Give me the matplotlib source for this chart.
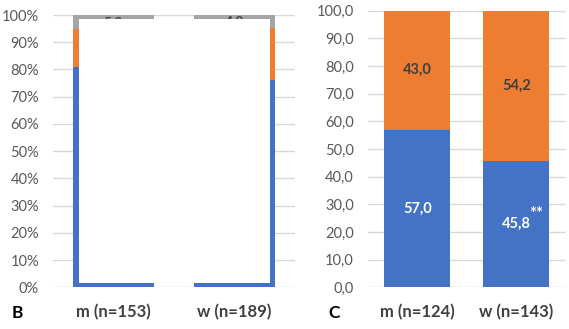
import numpy as np
import matplotlib
matplotlib.use("Agg")
import matplotlib.pyplot as plt
from matplotlib.patches import Rectangle
from matplotlib.ticker import PercentFormatter, FuncFormatter

plt.rcParams['font.family'] = ['Lato', 'DejaVu Sans']

# panel B (stacked percent, partly covered by a white box in the source)
groups_b = ["m (n=153)", "w (n=189)"]
blue_b = [81.0, 76.2]
orange_b = [13.8, 19.0]
gray_b = [5.2, 4.8]
gray_labels_b = ["5,2", "4,8"]

# panel C
groups_c = ["m (n=124)", "w (n=143)"]
blue_c = [57.0, 45.8]
orange_c = [43.0, 54.2]
blue_labels_c = ["57,0", "45,8"]
orange_labels_c = ["43,0", "54,2"]

BLUE = "#4472C4"
ORANGE = "#ED7D31"
GRAY = "#A5A5A5"
TXT = "#595959"
DARK = "#404040"
GRID = "#D9D9D9"
W = 0.67

fig = plt.figure(figsize=(5.69, 3.29), dpi=100)
axb = fig.add_axes([0.0931, 0.1267, 0.4253, 0.8277])
axc = fig.add_axes([0.6464, 0.1267, 0.3480, 0.8407])


def style(ax):
    for s in ax.spines.values():
        s.set_visible(False)
    ax.set_xlim(-0.5, 1.5)
    ax.set_ylim(0, 100)
    ax.set_yticks(np.arange(0, 101, 10))
    ax.yaxis.grid(True, color=GRID, linewidth=1)
    ax.set_axisbelow(True)
    ax.tick_params(axis='y', length=0, pad=10, labelsize=10.5, labelcolor=TXT)
    ax.tick_params(axis='x', length=0, pad=12, labelsize=12, labelcolor=DARK)


# ---- panel B
x = np.arange(len(groups_b))
style(axb)
axb.bar(x, blue_b, W, color=BLUE)
axb.bar(x, orange_b, W, bottom=blue_b, color=ORANGE)
bot = np.array(blue_b) + np.array(orange_b)
axb.bar(x, gray_b, W, bottom=bot, color=GRAY)
for i, t in enumerate(gray_labels_b):
    axb.text(x[i], bot[i] + gray_b[i] / 2, t, ha='center', va='center',
             fontsize=10, fontweight='bold', color=DARK)
axb.yaxis.set_major_formatter(PercentFormatter(100, decimals=0))
axb.set_xticks(x)
axb.set_xticklabels(groups_b, fontweight='bold')
# white box pasted over the middle of panel B
x0 = x[0] - W / 2 + 0.047
x1 = x[1] + W / 2 - 0.041
axb.add_patch(Rectangle((x0, 1.7), x1 - x0, 98.6 - 1.7, facecolor='white',
                        edgecolor='none', zorder=10))

# ---- panel C
x = np.arange(len(groups_c))
style(axc)
axc.bar(x, blue_c, W, color=BLUE)
axc.bar(x, orange_c, W, bottom=blue_c, color=ORANGE)
for i in range(len(x)):
    axc.text(x[i], blue_c[i] / 2, blue_labels_c[i], ha='center', va='center',
             fontsize=10.5, fontweight='bold', color='white')
    axc.text(x[i], blue_c[i] + orange_c[i] / 2, orange_labels_c[i], ha='center',
             va='center', fontsize=10.5, fontweight='bold', color=DARK)
axc.annotate("**", (x[1], blue_c[1] / 2), xytext=(14, 7), textcoords='offset points',
             ha='center', va='center', fontsize=12, fontweight='bold', color='white')
axc.yaxis.set_major_formatter(FuncFormatter(lambda v, p: f"{v:.1f}".replace('.', ',')))
axc.set_xticks(x)
axc.set_xticklabels(groups_c, fontweight='bold')

fig.text(0.02, 0.033, "B", fontsize=12.5, fontweight='bold', color='black')
fig.text(0.577, 0.033, "C", fontsize=12.5, fontweight='bold', color='black')

fig.savefig("out.png", dpi=100)
